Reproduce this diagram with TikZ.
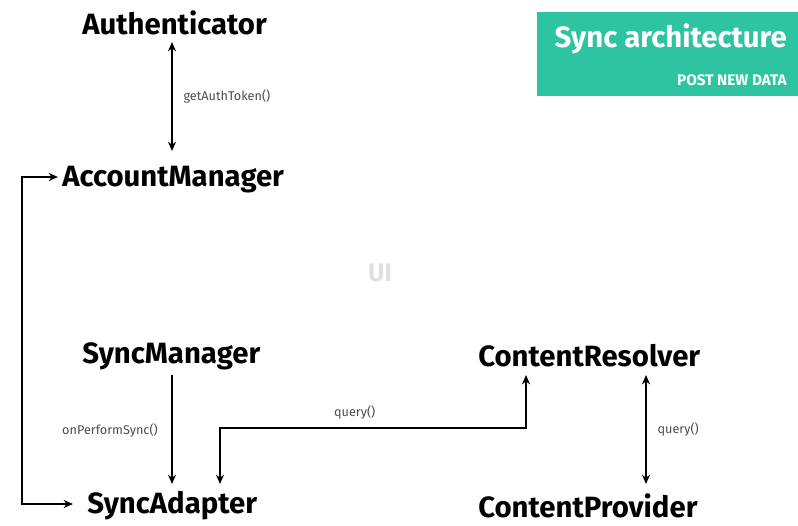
\documentclass[tikz,border=0pt]{standalone}
\usepackage{fontspec}
\setmainfont{Fira Sans}
\usetikzlibrary{arrows.meta}
\definecolor{teal}{HTML}{2EC4A2}
\tikzset{
  comp/.style={font=\bfseries\fontsize{22}{26}\selectfont, inner sep=0pt, anchor=west},
  call/.style={font=\fontsize{9.5}{11}\selectfont, text=black!70, inner sep=0pt},
  link/.style={line width=1.4pt, -{Stealth[length=7pt,width=6pt]}},
  both/.style={line width=1.4pt, {Stealth[length=7pt,width=6pt]}-{Stealth[length=7pt,width=6pt]}},
}
\begin{document}
\begin{tikzpicture}[x=0.75pt,y=-0.75pt]
\useasboundingbox (0,0) rectangle (798,525);

% title banner
\fill[teal] (537,12) rectangle (798,96);
\node[font=\bfseries\fontsize{22}{26}\selectfont, text=white, anchor=east, inner sep=0pt] (title) at (787,39) {Sync architecture};
\node[font=\bfseries\fontsize{11.5}{13}\selectfont, text=white, anchor=east, inner sep=0pt] (subtitle) at (787,80) {POST NEW DATA};

% components
\node[comp] (auth) at (82,23) {Authenticator};
\node[comp] (acct) at (62,180) {AccountManager};
\node[comp] (smgr) at (82,356) {SyncManager};
\node[comp] (sad)  at (87,506) {SyncAdapter};
\node[comp] (cres) at (478,356) {ContentResolver};
\node[comp] (cprov) at (478,506) {ContentProvider};
\node[font=\bfseries\fontsize{19}{22}\selectfont, text=black!12, inner sep=0pt] (ui) at (380,273) {UI};

% anchor points for the connectors
\coordinate (authB) at (172,42);
\coordinate (acctT) at (172,151);
\coordinate (acctL) at (58,177);
\coordinate (sadL) at (73,504);
\coordinate (loop) at (22,504);
\coordinate (smgrB) at (172,375);
\coordinate (sadT1) at (172,484);
\coordinate (sadT2) at (220,484);
\coordinate (cresB1) at (526,375);
\coordinate (cresB2) at (646,375);
\coordinate (cprovT) at (646,484);

% connectors
\draw[both] (authB) -- (acctT) node[midway, right=8pt, call] {getAuthToken()};
\draw[both] (acctL) -| (loop) -- (sadL);
\draw[link] (smgrB) -- (sadT1) node[pos=0.51, left=10pt, call] {onPerformSync()};
\draw[both] (sadT2) |- (526,428) node[pos=0.72, above=6pt, call] {query()} -- (cresB1);
\draw[both] (cresB2) -- (cprovT) node[midway, right=8pt, call] {query()};
\end{tikzpicture}
\end{document}
